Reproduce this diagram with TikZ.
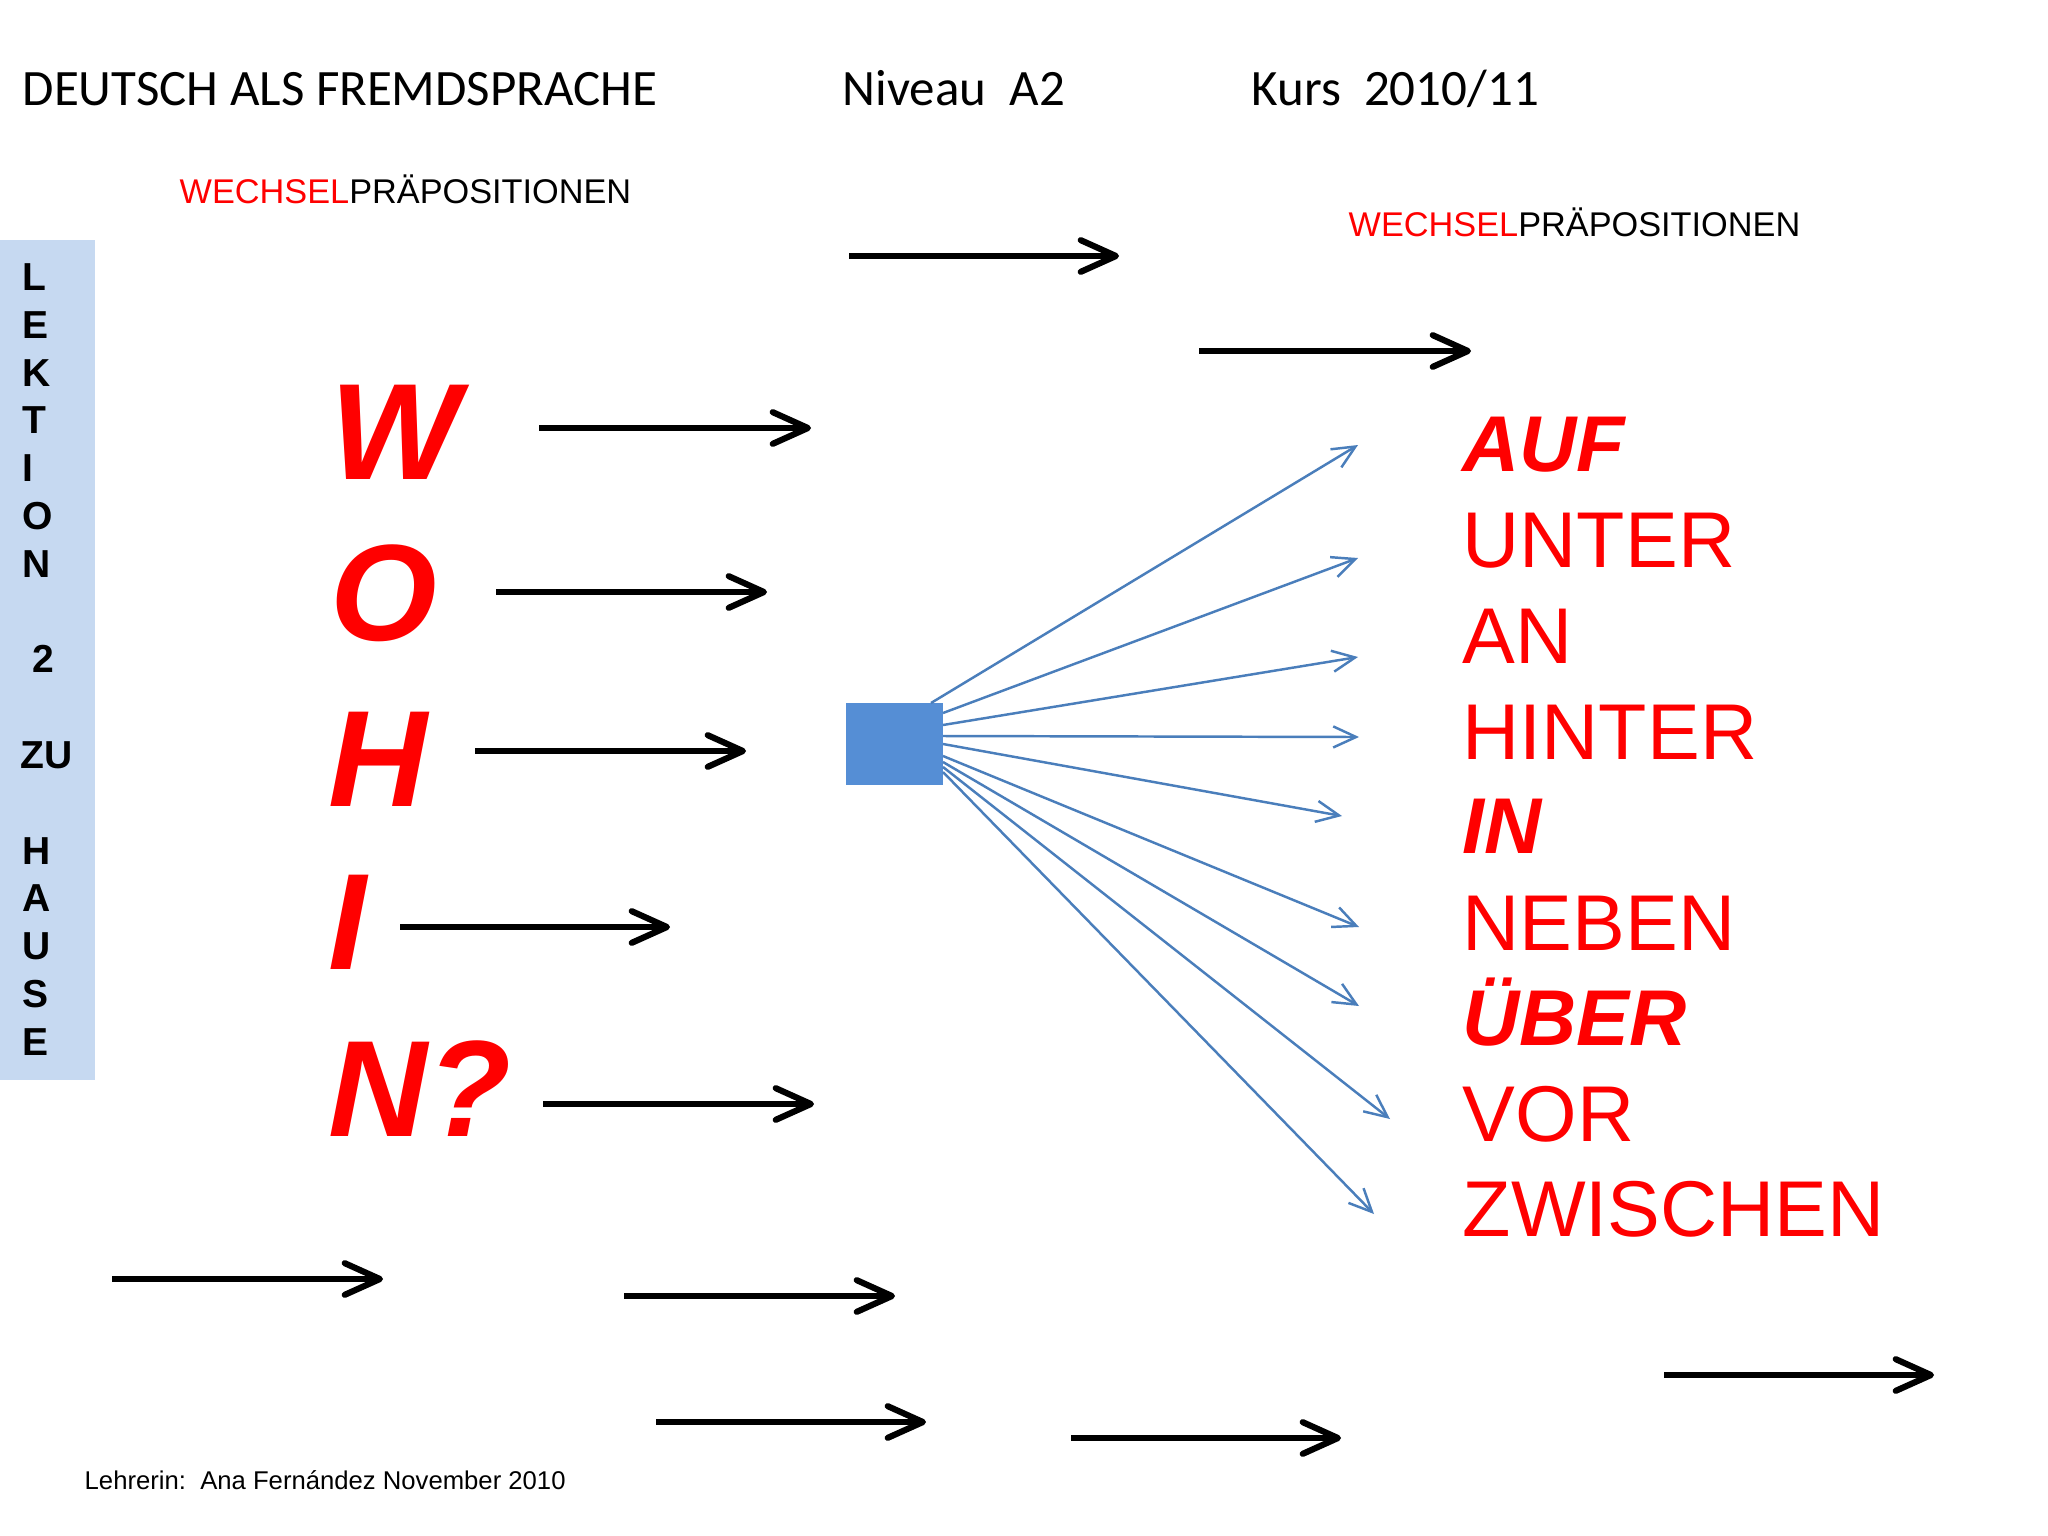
\documentclass[tikz,border=0pt]{standalone}
\usepackage{fontspec}
\setmainfont{Liberation Sans}
\newfontfamily\calib{Carlito}
\usetikzlibrary{arrows.meta}
\definecolor{sidebar}{RGB}{198,217,241}
\definecolor{sqblue}{RGB}{85,142,213}
\definecolor{fanblue}{RGB}{74,126,187}
\definecolor{wred}{RGB}{255,0,0}
\tikzset{
 hdr/.style={anchor=base west, inner sep=0pt, font=\calib\fontsize{14.5}{17}\selectfont},
 wp/.style={anchor=base west, inner sep=0pt, font=\fontsize{9.75}{12}\selectfont},
 sidetxt/.style={anchor=base west, inner sep=0pt, font=\bfseries\fontsize{11.1}{13}\selectfont},
 bigletter/.style={anchor=base west, inner sep=0pt, text=wred, font=\bfseries\itshape\fontsize{39}{45}\selectfont},
 prep/.style={anchor=base west, inner sep=0pt, text=wred, font=\fontsize{22.5}{26}\selectfont},
 prepb/.style={anchor=base west, inner sep=0pt, text=wred, font=\bfseries\itshape\fontsize{22.5}{26}\selectfont},
 foot/.style={anchor=base west, inner sep=0pt, font=\fontsize{7.3}{9}\selectfont},
 blk/.style={line width=1.75pt, -{Straight Barb[length=10pt,width=9pt,round]}},
 blu/.style={draw=fanblue, line width=0.7pt, -{Straight Barb[length=6.5pt,width=6pt]}},
}
\begin{document}
\begin{tikzpicture}[x=0.01cm,y=-0.01cm]
\useasboundingbox[fill=white] (0,0) rectangle (2048,1536);

% header
\node[hdr] (h1) at (22,105) {DEUTSCH ALS FREMDSPRACHE};
\node[hdr] (h2) at (842,105) {Niveau\ \ A2};
\node[hdr] (h3) at (1251,105) {Kurs\ \ 2010/11};

\node[wp] (wp1) at (179,203) {\textcolor{wred}{WECHSEL}PRÄPOSITIONEN};
\node[wp] (wp2) at (1348,236) {\textcolor{wred}{WECHSEL}PRÄPOSITIONEN};

% side bar
\fill[sidebar] (0,240) rectangle (95,1080);
\foreach \t/\yy in {L/290,E/338,K/386,T/433,I/481,O/529,N/577,H/864,A/911,U/959,S/1007,E/1055}
  \node[sidetxt] at (22,\yy) {\t};
\node[sidetxt] (two) at (32,672) {2};
\node[sidetxt] (zu) at (20,768) {ZU};

% WOHIN?
\node[bigletter] (W) at (330,479) {W};
\node[bigletter] (O) at (330,640) {O};
\node[bigletter] (H) at (328,806) {H};
\node[bigletter] (I) at (328,969) {I};
\node[bigletter] (N) at (328,1136) {N?};

% black arrows
\foreach \n/\xa/\xb/\yy in {a/849/1119/256, b/1199/1471/351, c/539/811/428, d/496/767/592,
  e/475/746/751, f/400/670/927, g/543/814/1104, h/112/383/1279, i/624/895/1296,
  j/1664/1934/1375, k/656/926/1422, l/1071/1341/1438}{
  \coordinate (s\n) at (\xa,\yy);
  \coordinate (e\n) at (\xb,\yy);
  \draw[blk] (s\n) -- (e\n);
}

% blue square
\node[fill=sqblue, inner sep=0pt, minimum width=0.97cm, minimum height=0.82cm] (sq) at (894.5,744) {};

% prepositions
\node[prepb] (p1) at (1462,471) {AUF};
\node[prep]  (p2) at (1462,567) {UNTER};
\node[prep]  (p3) at (1462,663) {AN};
\node[prep]  (p4) at (1462,759) {HINTER};
\node[prepb] (p5) at (1462,853) {IN};
\node[prep]  (p6) at (1462,950) {NEBEN};
\node[prepb] (p7) at (1462,1045) {ÜBER};
\node[prep]  (p8) at (1462,1141) {VOR};
\node[prep]  (p9) at (1462,1236) {ZWISCHEN};

% fan
\foreach \n/\ya/\xb/\yb in {1/703/1358/445, 2/713/1358/558, 3/725/1358/657, 4/736/1359/737,
  5/744/1342/816, 6/756/1359/927, 7/762/1359/1006, 8/767/1390/1119, 9/772/1374/1214}{
  \coordinate (fs\n) at (943,\ya);
  \coordinate (fe\n) at (\xb,\yb);
}
\coordinate (fs1) at (931,703);
\foreach \n in {1,...,9}
  \draw[blu] (fs\n) -- (fe\n);

% footer
\node[foot] (ft) at (84,1489) {Lehrerin:\ \ Ana Fernández November 2010};
\end{tikzpicture}
\end{document}
